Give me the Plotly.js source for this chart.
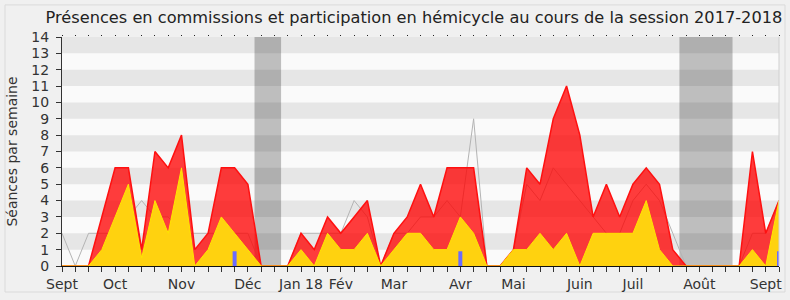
<!DOCTYPE html>
<html>
<head>
<meta charset="utf-8">
<script src="https://cdn.plot.ly/plotly-3.0.1.min.js"></script>
<style>html,body{margin:0;padding:0;background:#f0f0f0;}#chart{width:790px;height:300px;}</style>
</head>
<body>
<div id="chart"></div>
<script>
// Week index (session 2017-2018, one point per week)
const weeks = [0,1,2,3,4,5,6,7,8,9,10,11,12,13,14,15,16,17,18,19,20,21,22,23,24,25,26,27,28,29,30,31,32,33,34,35,36,37,38,39,40,41,42,43,44,45,46,47,48,49,50,51,52,53,54];
// Total presences (red area)
const totalPresences = [0,0,0,3,6,6,1,7,6,8,1,2,6,6,5,0,0,0,2,1,3,2,3,4,0,2,3,5,3,6,6,6,0,0,1,6,5,9,11,8,3,5,3,5,6,5,1,0,0,0,0,0,7,2,4];
// Commission presences (yellow area)
const commissions = [0,0,0,1,3,5,0.5,4,2,6,0,1,3,2,1,0,0,0,1,0,2,1,1,2,0,1,2,2,1,1,3,2,0,0,1,1,2,1,2,0,2,2,2,2,4,1,0,0,0,0,0,0,1,0,4];
// Median deputy (grey line)
const median = [2,0,2,2,2,3,4,3,3,2,2,2,2,2,2,0,0,0,2,2,2,2,4,3,0,2,2,3,3,4,3,9,0,0,1,5,4,6,5,4,3,2,2,4,5,4,2,0,0,0,0,0,2,2,4];
// Questions (blue bars)
const questionWeeks = [13,30,54];
const questionValues = [0.9,0.9,0.9];
// Vacation periods
const vacStart = [14.5, 46.5];
const vacEnd = [16.5, 50.5];
// Month labels
const monthWeeks = [0,4,9,14,18,21,25,30,34,39,43,48,53];
const monthLabels = ['Sept','Oct','Nov','Déc','Jan 18','Fév','Mar','Avr','Mai','Juin','Juil','Août','Sept'];

const tickText = weeks.map(w => { const k = monthWeeks.indexOf(w); return k >= 0 ? monthLabels[k] : ''; });

const shapes = [];
for (let y = 1; y < 14; y += 2) {
  shapes.push({type:'rect', xref:'paper', yref:'y', x0:0, x1:1, y0:y, y1:y+1, fillcolor:'#e6e6e6', line:{width:0}, layer:'below'});
}
for (let k = 0; k < vacStart.length; k++) {
  shapes.push({type:'rect', xref:'x', yref:'paper', x0:vacStart[k], x1:vacEnd[k], y0:0, y1:1, fillcolor:'rgba(0,0,0,0.24)', line:{width:0}, layer:'below'});
}
shapes.push({type:'line', xref:'paper', yref:'paper', x0:1, x1:1, y0:0, y1:1, line:{color:'#d0d0d0', width:1}});
shapes.push({type:'rect', xref:'paper', yref:'paper', x0:-0.0795, x1:1.0084, y0:-0.1135, y1:1.14, line:{color:'#dadada', width:1}, fillcolor:'rgba(0,0,0,0)', layer:'below'});

const traces = [
  {x: weeks, y: median, type:'scatter', mode:'lines', line:{color:'#b4b4b4', width:1}, hoverinfo:'skip'},
  {x: weeks, y: totalPresences, type:'scatter', mode:'lines', fill:'tozeroy', fillcolor:'rgba(255,0,0,0.76)', line:{color:'#ff1010', width:1.5}, hoverinfo:'skip'},
  {x: weeks, y: commissions, type:'scatter', mode:'lines', fill:'tozeroy', fillcolor:'#ffd20f', line:{color:'#ffe600', width:1}, hoverinfo:'skip'},
  {x: questionWeeks, y: questionValues, type:'bar', width:0.3, marker:{color:'#6b6bff'}, xaxis:'x2', hoverinfo:'skip'}
];

const font = {family:'DejaVu Sans, sans-serif', size:14, color:'#333'};
const layout = {
  width:790, height:300,
  margin:{l:62, r:11, t:37, b:34},
  paper_bgcolor:'#f0f0f0', plot_bgcolor:'#fafafa',
  showlegend:false,
  font: font,
  title:{text:'Présences en commissions et participation en hémicycle au cours de la session 2017-2018', font:{family:'DejaVu Sans, sans-serif', size:16.2, color:'#222'}, x:0.524, xref:'container', xanchor:'center', y:0.943, yanchor:'middle'},
  xaxis:{range:[0,54], tickvals:weeks, ticktext:tickText, ticks:'outside', ticklen:5, tickcolor:'#333', showline:true, linecolor:'#111', showgrid:false, zeroline:false, tickangle:0, tickfont:font},
  xaxis2:{range:[0,54], overlaying:'x', side:'top', tickvals:weeks, ticks:'outside', ticklen:1, tickcolor:'#222', showticklabels:false, showline:false, showgrid:false, zeroline:false},
  yaxis:{range:[0,14], dtick:1, ticks:'outside', ticklen:5, tickcolor:'#333', showline:true, linecolor:'#333', showgrid:false, zeroline:false, tickfont:font, ticklabelstandoff:4,
         title:{text:'Séances par semaine', font:{family:'DejaVu Sans, sans-serif', size:14, color:'#333'}, standoff:10}},
  shapes: shapes
};
Plotly.newPlot('chart', traces, layout, {staticPlot:true});
</script>
</body>
</html>
